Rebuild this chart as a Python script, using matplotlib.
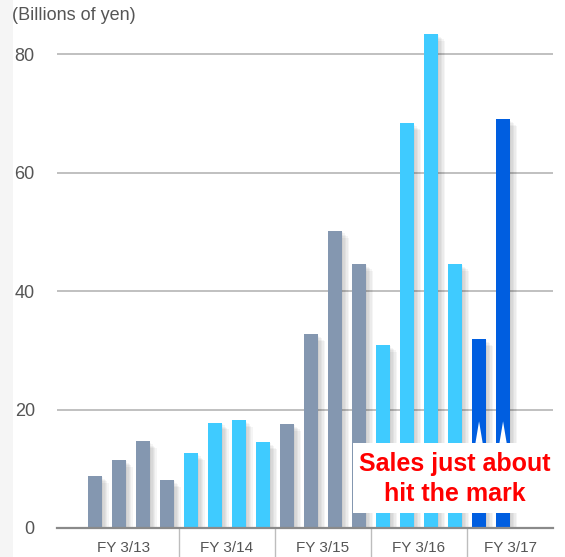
import matplotlib.pyplot as plt
import matplotlib.patheffects as pe
from matplotlib.patches import Rectangle, Polygon
import numpy as np

# Sales per quarter, billions of yen
fiscal_years = ['FY 3/13', 'FY 3/14', 'FY 3/15', 'FY 3/16', 'FY 3/17']
quarters_per_year = [4, 4, 4, 4, 2]
sales = [8.8, 11.5, 14.6, 8.1,
         12.6, 17.8, 18.2, 14.5,
         17.6, 32.7, 50.2, 44.6,
         30.9, 68.3, 83.4, 44.6,
         31.9, 69.0]
year_colors = ['#8497b0', '#3fcbff', '#8497b0', '#3fcbff', '#005ee0']
yticks = [0, 20, 40, 60, 80]

plt.rcParams['font.family'] = ['Liberation Sans', 'DejaVu Sans']

W, H = 565, 557
fig = plt.figure(figsize=(W / 100, H / 100), dpi=100)
fig.patch.set_facecolor('white')
# faint page strip on the left edge
fig.patches.append(Rectangle((0, 0), 13 / W, 1, transform=fig.transFigure,
                             facecolor='#f5f5f5', edgecolor='none', zorder=0))

ax = fig.add_axes([57 / W, (H - 528) / H, 496 / W, 503.6 / H])
ax.set_facecolor('none')

x = np.arange(len(sales))
colors = []
for c, n in zip(year_colors, quarters_per_year):
    colors += [c] * n

shadow = [pe.SimplePatchShadow(offset=(o, -o), shadow_rgbFace='black', alpha=0.04)
          for o in (1, 2, 3, 4, 5)] + [pe.Normal()]
bars = ax.bar(x, sales, width=0.58, color=colors, zorder=3)
for b in bars:
    b.set_path_effects(shadow)

ax.set_xlim(-1.58, 19.08)
ax.set_ylim(0, 85)
ax.set_yticks(yticks)
ax.tick_params(axis='y', length=0, pad=16, labelsize=13, labelcolor='#555555')
ax.tick_params(axis='x', length=0, labelbottom=False)
ax.yaxis.grid(True, color='#b5b5b5', linewidth=1.2, zorder=1)
ax.xaxis.grid(False)
for s in ['top', 'right', 'left']:
    ax.spines[s].set_visible(False)
ax.spines['bottom'].set_color('#8a8a8a')
ax.spines['bottom'].set_linewidth(1.6)
ax.spines['bottom'].set_zorder(4)

# year group separators and labels below the axis
bounds = np.cumsum([0] + quarters_per_year) - 0.5
edges = [ax.get_xlim()[0] + 0.5] + list(bounds[1:-1]) + [ax.get_xlim()[1]]
for b in bounds[1:-1]:
    ax.plot([b, b], [0, -6], color='#bdbdbd', linewidth=1, clip_on=False, zorder=2)
for i, name in enumerate(fiscal_years):
    ax.text((edges[i] + edges[i + 1]) / 2, -3.3, name, ha='center', va='center',
            fontsize=11, color='#555555', clip_on=False)

# break marks on the latest year bars
start = sum(quarters_per_year[:-1])
for i in range(start, len(sales)):
    ax.add_patch(Polygon([(i - 0.15, 14.35), (i, 18.0), (i + 0.15, 14.35)],
                         closed=True, facecolor='white', edgecolor='none', zorder=5))

# callout box
ax.add_patch(Rectangle((10.75, 2.55), 8.6, 11.8, facecolor='white',
                       edgecolor='none', zorder=6, clip_on=False))
ax.text(15.0, 8.3, 'Sales just about\nhit the mark', ha='center', va='center',
        fontsize=18, fontweight='bold', color='#ff0000', linespacing=1.3, zorder=7)

fig.text(12 / W, 1 - 16 / H, '(Billions of yen)', ha='left', va='center',
         fontsize=13, color='#555555')

fig.savefig('out.png', dpi=100)
